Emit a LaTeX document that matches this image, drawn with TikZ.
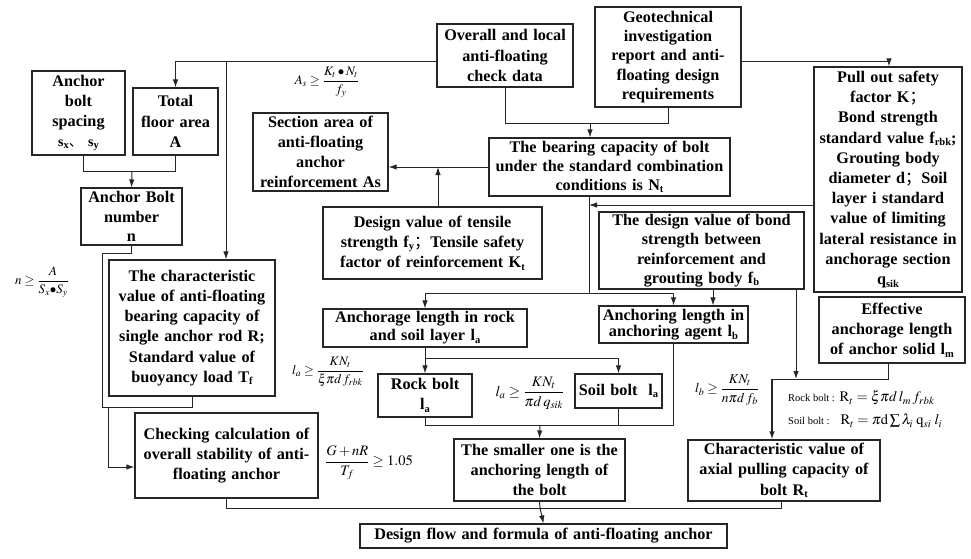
\documentclass[tikz,border=0pt]{standalone}
\usepackage{amsmath}
\usepackage{mathptmx}
\usepackage[no-math]{fontspec}
\setmainfont{Liberation Serif}
\newfontfamily\cjk{Noto Sans CJK SC}
\usetikzlibrary{arrows.meta,calc}
\newcommand{\sbs}[1]{\raisebox{-0.35ex}{\fontsize{10.5}{10.5}\selectfont #1}}
\tikzset{
  box/.style={draw=black!85, line width=1.1pt, align=center, inner sep=0pt,
    font=\bfseries\fontsize{16.2}{20.2}\selectfont},
  ln/.style={line width=1pt, draw=black!85},
  arr/.style={ln, -{Latex[length=8pt,width=5.5pt]}},
  fm/.style={inner sep=0pt, font=\fontsize{13}{15}\selectfont},
}
\begin{document}
\begin{tikzpicture}[x=1pt,y=-1pt]
\useasboundingbox (0,0) rectangle (971,558);

% boxes
\node[box, minimum width=93pt, minimum height=84pt, text width=91pt] (spacing) at (78.5,113)
  {Anchor\\bolt\\spacing\\{\fontsize{14}{16}\selectfont s\sbs{x}{\cjk\mdseries 、} s\sbs{y}}};
\node[box, minimum width=85pt, minimum height=67pt, text width=83pt] (area) at (175.5,121.5)
  {Total\\floor area\\A};
\node[box, minimum width=136pt, minimum height=63pt, text width=134pt] (overall) at (505,55.5)
  {Overall and local\\anti-floating\\check data};
\node[box, minimum width=146pt, minimum height=100pt, text width=144pt,
  font=\bfseries\fontsize{16.2}{19.4}\selectfont] (geo) at (668,57)
  {Geotechnical\\investigation\\report and anti-\\floating design\\requirements};
\node[box, minimum width=148pt, minimum height=225pt, text width=146pt] (pull) at (888,179.5)
  {Pull out safety\\factor K{\cjk\mdseries ；}\\Bond strength\\standard value f\sbs{rbk};\\Grouting body\\diameter d{\cjk\mdseries ；}Soil\\layer i standard\\value of limiting\\lateral resistance in\\anchorage section\\q\sbs{sik}};
\node[box, minimum width=135pt, minimum height=78pt, text width=133pt] (section) at (320.5,152)
  {Section area of\\anti-floating\\anchor\\reinforcement As};
\node[box, minimum width=241pt, minimum height=58pt, text width=239pt,
  font=\bfseries\fontsize{16.2}{19}\selectfont] (bearing) at (609.5,167)
  {The bearing capacity of bolt\\under the standard combination\\conditions is N\sbs{t}};
\node[box, minimum width=219pt, minimum height=72pt, text width=217pt] (tensile) at (432.5,243)
  {Design value of tensile\\strength f\sbs{y}{\cjk\mdseries ；}Tensile safety\\factor of reinforcement K\sbs{t}};
\node[box, minimum width=205pt, minimum height=77pt, text width=203pt,
  font=\bfseries\fontsize{16.2}{19.2}\selectfont] (bond) at (701.5,250.5)
  {The design value of bond\\strength between\\reinforcement and\\grouting body f\sbs{b}};
\node[box, minimum width=101pt, minimum height=57pt, text width=99pt,
  font=\bfseries\fontsize{16.2}{19.5}\selectfont] (number) at (131.5,216.5)
  {Anchor Bolt\\number\\n};
\node[box, minimum width=166pt, minimum height=136pt, text width=164pt] (Rbox) at (192,328)
  {The characteristic\\value of anti-floating\\bearing capacity of\\single anchor rod R;\\Standard value of\\buoyancy load T\sbs{f}};
\node[box, minimum width=204pt, minimum height=38pt, text width=202pt,
  font=\bfseries\fontsize{16.2}{18}\selectfont] (la) at (425,328)
  {Anchorage length in rock\\and soil layer l\sbs{a}};
\node[box, minimum width=149pt, minimum height=37pt, text width=147pt,
  font=\bfseries\fontsize{16.2}{16.5}\selectfont] (lb) at (673.5,324.5)
  {Anchoring length in\\anchoring agent l\sbs{b}};
\node[box, minimum width=146pt, minimum height=66pt, text width=144pt] (lm) at (892,330)
  {Effective\\anchorage length\\of anchor solid l\sbs{m}};
\node[box, minimum width=94pt, minimum height=43pt, text width=92pt] (rock) at (425,395.5)
  {Rock bolt\\l\sbs{a}};
\node[box, minimum width=87pt, minimum height=34pt, text width=85pt] (soil) at (618.5,391)
  {Soil bolt\ \ l\sbs{a}};
\node[box, minimum width=183pt, minimum height=85pt, text width=181pt] (check) at (226.5,455.5)
  {Checking calculation of\\overall stability of anti-\\floating anchor};
\node[box, minimum width=171pt, minimum height=62pt, text width=169pt] (smaller) at (539.5,470)
  {The smaller one is the\\anchoring length of\\the bolt};
\node[box, minimum width=192pt, minimum height=61pt, text width=190pt] (axial) at (784,470.5)
  {Characteristic value of\\axial pulling capacity of\\bolt R\sbs{t}};
\node[box, minimum width=367pt, minimum height=24pt, text width=365pt] (flow) at (543.5,536)
  {Design flow and formula of anti-floating anchor};

% formulas
\node[fm] (fAs) at (327,82) {$A_s\geq\dfrac{K_t\bullet N_t}{f_y}$};
\node[fm] (fn) at (42,282) {$n\geq\dfrac{A}{S_x{\bullet}S_y}$};
\node[fm] (fla1) at (328,372) {$l_a\geq\dfrac{KN_t}{\xi\pi d\,f_{rbk}}$};
\node[fm, font=\fontsize{14.5}{16}\selectfont] (fla2) at (530,393) {$l_a\geq\dfrac{KN_t}{\pi d\,q_{sik}}$};
\node[fm, font=\fontsize{13.5}{15}\selectfont] (flb) at (727,390) {$l_b\geq\dfrac{KN_t}{n\pi d\,f_b}$};
\node[fm, anchor=west, font=\fontsize{14.5}{16}\selectfont] (fR1) at (788,398)
  {{\fontsize{10.5}{12}\selectfont Rock bolt :} $\mathrm{R}_t=\xi\pi d\,l_m\,f_{rbk}$};
\node[fm, anchor=west, font=\fontsize{14.5}{16}\selectfont] (fR2) at (788,421)
  {{\fontsize{10.5}{12}\selectfont Soil bolt :}\ \ \ $\mathrm{R}_t=\pi\mathrm{d}\,{\textstyle\sum}\,\lambda_i\;\mathrm{q}_{si}\;l_i$};
\node[fm, font=\fontsize{14.5}{16}\selectfont] (fG) at (369,463) {$\dfrac{G+nR}{T_f}\geq1.05$};

% junction coordinates
\coordinate (j1) at (175,61);
\coordinate (j2) at (226,61);
\coordinate (j3) at (590,123);
\coordinate (j4) at (889,61);
\coordinate (j5) at (132,171);
\coordinate (j6) at (102,253);
\coordinate (j7) at (102,407);
\coordinate (j8) at (108,407);
\coordinate (j9) at (108,467);
\coordinate (j10) at (589,293);
\coordinate (j11) at (589,205);
\coordinate (j12) at (425,358);
\coordinate (j13) at (540,425);
\coordinate (j14) at (796,379);
\coordinate (j15) at (772,379);
\coordinate (j16) at (540,508);

% connectors
\draw[arr] (overall.west |- j1) -| (area.north);
\draw[arr] (j2) -- (j2 |- Rbox.north);
\draw[ln] (overall.south) |- (j3);
\draw[ln] (geo.south) |- (j3);
\draw[arr] (j3) -- (j3 |- bearing.north);
\draw[arr] (geo.east |- j4) -- (j4) -- (j4 |- pull.north);
\draw[ln] ([xshift=4.5pt]spacing.south) |- (j5);
\draw[ln] (area.south) |- (j5);
\draw[arr] (j5) -- (number.north);
\draw[ln] (number.south) |- (j6) -- (j7) -| (Rbox.south);
\draw[arr] (j8) -- (j9) -- (check.west |- j9);
\draw[arr] (bearing.west) -- (section.east |- bearing.west);
\draw[arr] ([xshift=5.5pt]tensile.north) -- ([xshift=5.5pt]tensile.north |- bearing.west);
\draw[ln] (bearing.south -| j10) -- (j10);
\draw[arr] (j10) -| (la.north);
\draw[arr] (j10) -| (lb.north);
\draw[arr] (pull.west |- j11) -- (j11);
\draw[arr] ([xshift=11.5pt]bond.south) -- ([xshift=11.5pt]bond.south |- lb.north);
\draw[arr] (la.south) -- (rock.north);
\draw[arr] (j12) -| (soil.north);
\draw[ln] (rock.south) |- (lb.south |- j13) -- (lb.south);
\draw[ln] (soil.south) -- (soil.south |- j13);
\draw[arr] (j13) -- (smaller.north);
\draw[arr] (bond.south -| j14) -- (j14);
\draw[ln] ([xshift=-4pt]lm.south) |- (j15);
\draw[arr, line width=1.5pt] (j15) -- (j15 |- axial.north);
\draw[ln] (check.south) |- ([xshift=-3pt]axial.south |- j16) -- ([xshift=-3pt]axial.south);
\draw[ln] (smaller.south) -- (j16);
\draw[arr] (j16) -- (flow.north);
\end{tikzpicture}
\end{document}
